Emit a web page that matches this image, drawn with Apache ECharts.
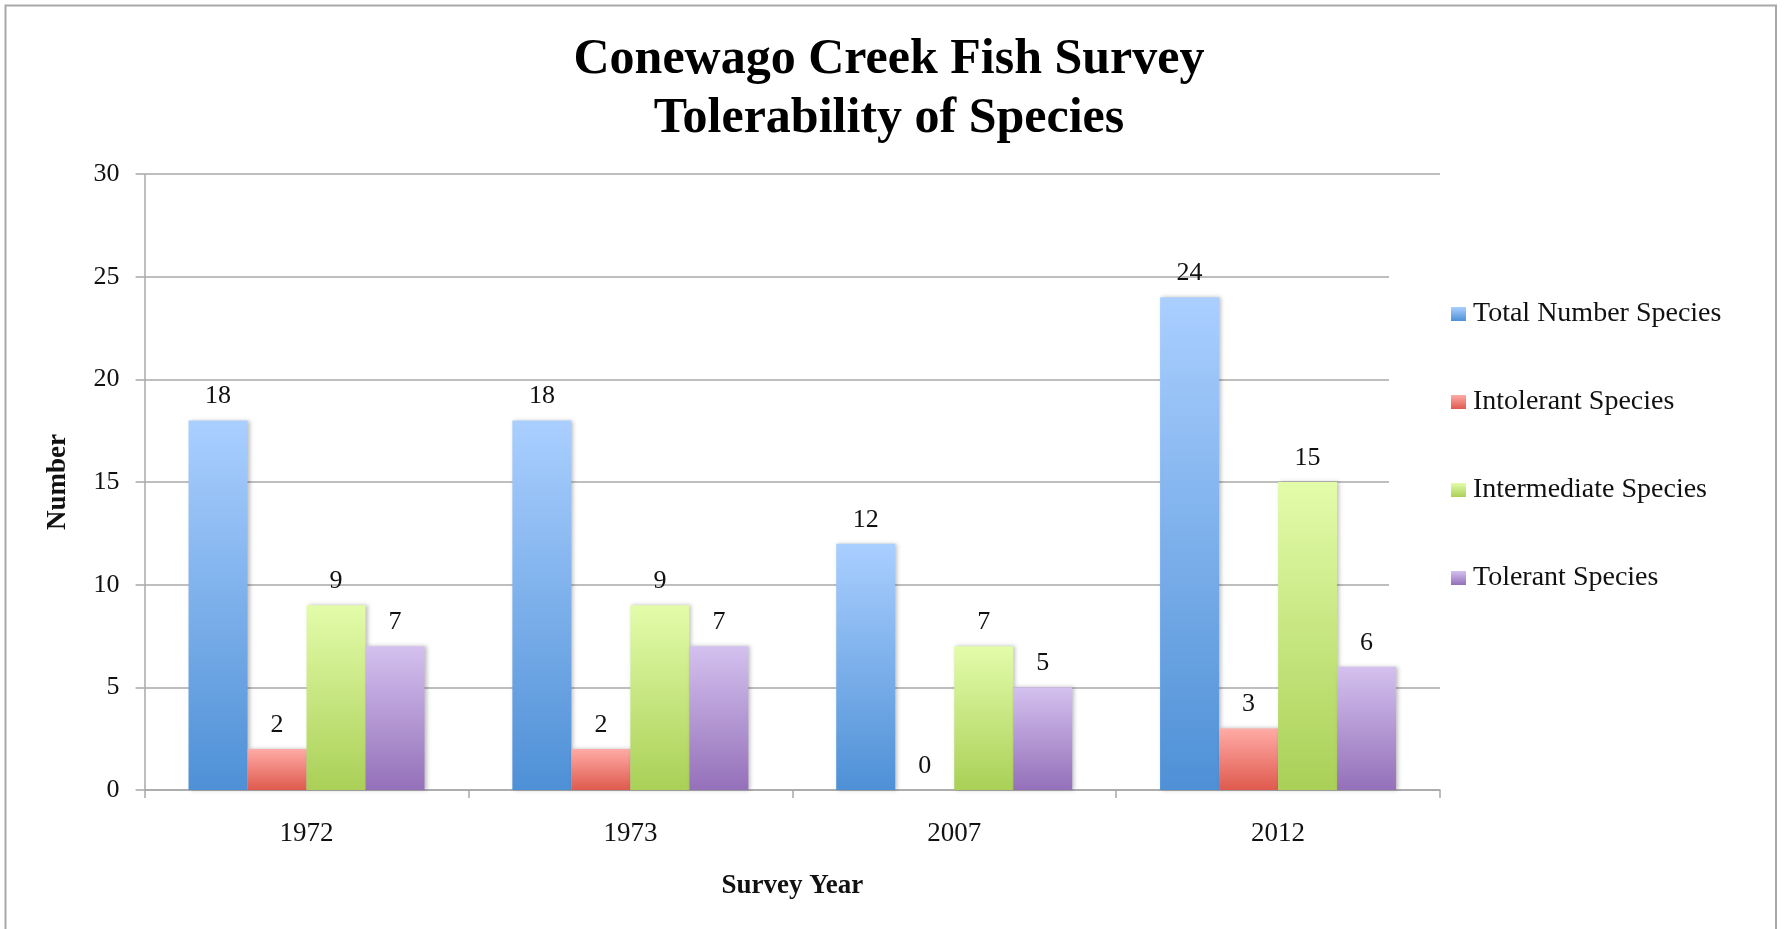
<!DOCTYPE html>
<html>
<head>
<meta charset="utf-8">
<script src="https://cdn.jsdelivr.net/npm/echarts@6/dist/echarts.min.js"></script>
<style>
html,body{margin:0;padding:0;background:#fff;}
#chart{width:1785px;height:929px;}
</style>
</head>
<body>
<div id="chart"></div>
<script>
// ---- data ----
const categories = ['1972', '1973', '2007', '2012'];
const seriesNames = ['Total Number Species', 'Intolerant Species', 'Intermediate Species', 'Tolerant Species'];
const totalSpecies = [18, 18, 12, 24];
const intolerantSpecies = [2, 2, 0, 3];
const intermediateSpecies = [9, 9, 7, 15];
const tolerantSpecies = [7, 7, 5, 6];
const yTicks = [0, 5, 10, 15, 20, 25, 30];
const titleText = 'Conewago Creek Fish Survey\nTolerability of Species';
const xAxisTitle = 'Survey Year';
const yAxisTitle = 'Number';

// ---- style ----
const FONT = '"Liberation Serif", "Times New Roman", serif';
const gradients = [
  ['#aacfff', '#4e90d6'],
  ['#ffaba6', '#df5a4e'],
  ['#e3fcaa', '#aad057'],
  ['#d4c1ef', '#9470b9']
];
const values = [totalSpecies, intolerantSpecies, intermediateSpecies, tolerantSpecies];
const gridColor = '#a8a8a8';

const chart = echarts.init(document.getElementById('chart'));

const series = seriesNames.map((name, i) => ({
  name: name,
  type: 'bar',
  data: values[i],
  barWidth: 59,
  barGap: '0%',
  itemStyle: {
    color: new echarts.graphic.LinearGradient(0, 0, 0, 1, [
      { offset: 0, color: gradients[i][0] },
      { offset: 1, color: gradients[i][1] }
    ]),
    shadowColor: 'rgba(0,0,0,0.25)',
    shadowBlur: 4,
    shadowOffsetX: 2,
    shadowOffsetY: 0
  },
  label: {
    show: true,
    position: 'top',
    distance: 11,
    color: '#111',
    fontFamily: FONT,
    fontSize: 26
  },
  emphasis: { disabled: true }
}));

chart.setOption({
  animation: false,
  backgroundColor: '#fff',
  title: {
    text: titleText,
    left: 889,
    top: 31,
    padding: 0,
    textAlign: 'center',
    textStyle: {
      fontFamily: FONT,
      fontWeight: 'bold',
      fontSize: 50,
      lineHeight: 59,
      color: '#000'
    }
  },
  legend: {
    orient: 'vertical',
    left: 1389,
    top: 250,
    padding: [50, 30, 40, 62],
    backgroundColor: '#fff',
    itemWidth: 15,
    itemHeight: 14,
    itemGap: 60,
    icon: 'rect',
    textStyle: {
      fontFamily: FONT,
      fontSize: 28,
      color: '#111',
      padding: [0, 0, 0, 2]
    },
    data: seriesNames
  },
  grid: {
    left: 144.6,
    right: 345,
    top: 174.2,
    bottom: 139
  },
  xAxis: {
    type: 'category',
    data: categories,
    name: xAxisTitle,
    nameLocation: 'middle',
    nameGap: 83,
    nameTextStyle: {
      fontFamily: FONT,
      fontWeight: 'bold',
      fontSize: 27,
      color: '#111'
    },
    axisLine: { show: true, lineStyle: { color: gridColor, width: 1.5 } },
    axisTick: { show: true, alignWithLabel: false, length: 8, lineStyle: { color: gridColor, width: 1.5 } },
    axisLabel: {
      margin: 30,
      fontFamily: FONT,
      fontSize: 27,
      color: '#111'
    },
    splitLine: { show: false }
  },
  yAxis: {
    type: 'value',
    min: yTicks[0],
    max: yTicks[yTicks.length - 1],
    interval: yTicks[1] - yTicks[0],
    name: yAxisTitle,
    nameLocation: 'middle',
    nameGap: 73,
    nameRotate: 90,
    nameTextStyle: {
      fontFamily: FONT,
      fontWeight: 'bold',
      fontSize: 27,
      color: '#111'
    },
    axisLine: { show: true, lineStyle: { color: gridColor, width: 1.5 } },
    axisTick: { show: true, length: 9, lineStyle: { color: gridColor, width: 1.5 } },
    axisLabel: {
      margin: 25,
      fontFamily: FONT,
      fontSize: 26,
      color: '#111'
    },
    splitLine: { show: true, lineStyle: { color: gridColor, width: 1.5 } }
  },
  graphic: [{
    type: 'rect',
    shape: { x: 5.5, y: 5.5, width: 1770.5, height: 1000 },
    style: { fill: 'none', stroke: '#a8a8a8', lineWidth: 2 },
    silent: true,
    z: 100
  }],
  series: series
});
</script>
</body>
</html>
